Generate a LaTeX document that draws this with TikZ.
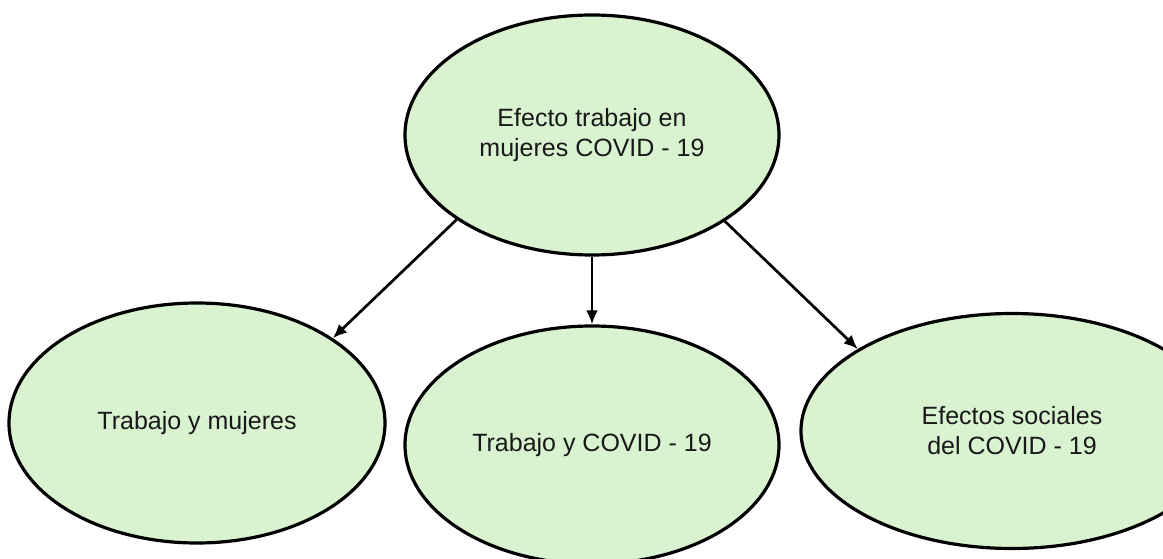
\documentclass[tikz,border=0pt]{standalone}
\usepackage{fontspec}
\setmainfont{Liberation Sans}
\usetikzlibrary{shapes.geometric,arrows.meta}
\definecolor{nodefill}{RGB}{217,242,208}
\definecolor{txt}{RGB}{25,25,25}
\tikzset{
  oval/.style={ellipse, draw=black, line width=3.2pt, fill=nodefill, inner sep=0pt,
    text=txt, align=center, font=\fontsize{25}{30}\selectfont},
  conn/.style={line width=2.7pt, -{Latex[length=14pt,width=12pt]}}
}
\begin{document}
\begin{tikzpicture}[x=1pt,y=-1pt]
\useasboundingbox (0,0) rectangle (1163,559);
\clip (0,0) rectangle (1163,559);
\fill[white] (0,0) rectangle (1163,559);
\node[oval, minimum width=374pt, minimum height=240pt] (top) at (592,135) {Efecto trabajo en\\mujeres COVID - 19};
\node[oval, minimum width=376pt, minimum height=240pt] (left) at (197,423) {Trabajo y mujeres};
\node[oval, minimum width=374pt, minimum height=238pt] (mid) at (592,445) {Trabajo y COVID - 19};
\node[oval, minimum width=422pt, minimum height=235pt] (right) at (1012,431) {Efectos sociales\\del COVID - 19};
\draw[conn] (top.212.8) -- (left.32.5);
\draw[conn] (top.south) -- (mid.north);
\draw[conn] (top.327.4) -- (right.152.1);
\end{tikzpicture}
\end{document}
